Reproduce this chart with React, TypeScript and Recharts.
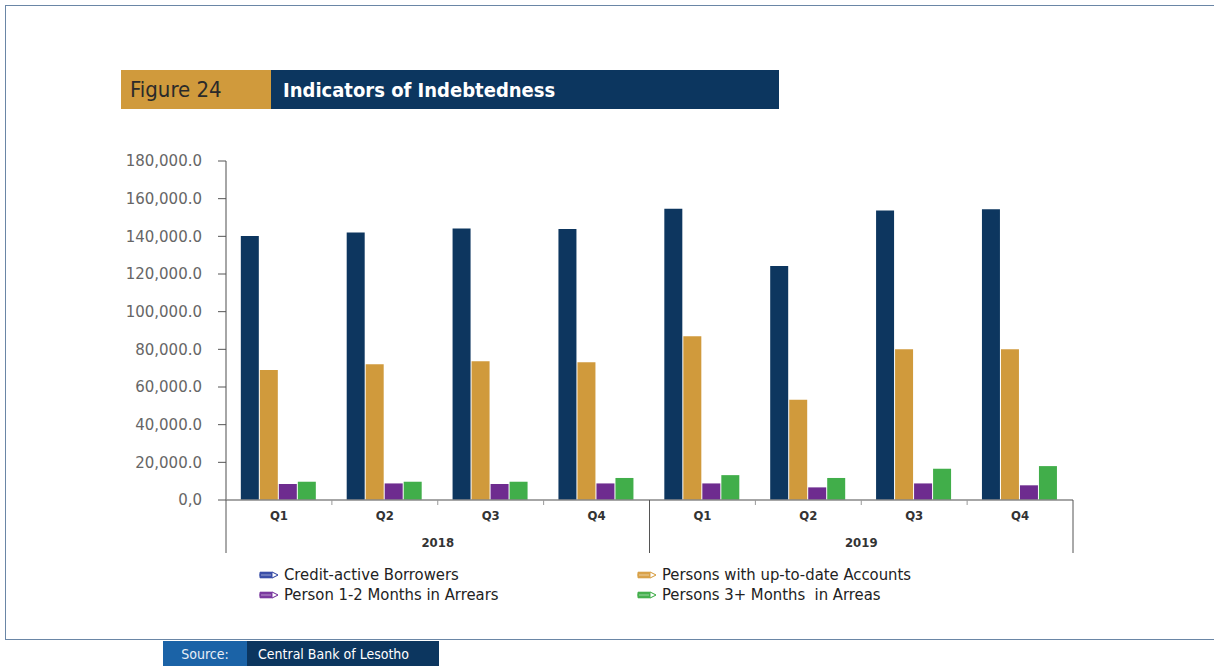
import { Bar, BarChart, XAxis, YAxis } from 'recharts'

const quarters = ['Q1', 'Q2', 'Q3', 'Q4', 'Q1', 'Q2', 'Q3', 'Q4']
const years = ['2018', '2019']
const creditActive = [140200, 142000, 144100, 143900, 154700, 124300, 153700, 154400]
const upToDate = [69000, 72100, 73700, 73200, 87000, 53200, 80100, 80100]
const arrears12 = [8500, 8800, 8500, 8800, 8800, 6700, 8800, 7800]
const arrears3plus = [9700, 9700, 9700, 11700, 13200, 11700, 16600, 18000]
const yTicks = [0, 20000, 40000, 60000, 80000, 100000, 120000, 140000, 160000, 180000]

const SERIES = [
  { key: 'credit', name: 'Credit-active Borrowers', color: '#0d365f', icon: '#3b4fa8' },
  { key: 'upToDate', name: 'Persons with up-to-date Accounts', color: '#d09a3c', icon: '#d9a24a' },
  { key: 'arr12', name: 'Person 1-2 Months in Arrears', color: '#6e2c8f', icon: '#7b3aa0' },
  { key: 'arr3', name: 'Persons 3+ Months  in Arreas', color: '#41ae4a', icon: '#45b04e' },
]

const data = quarters.map((q, i) => ({
  q,
  credit: creditActive[i],
  upToDate: upToDate[i],
  arr12: arrears12[i],
  arr3: arrears3plus[i],
}))

const NARROW = '"DejaVu Sans Condensed", "Liberation Sans Narrow", sans-serif'

// plot box
const PLOT_LEFT = 226
const PLOT_RIGHT = 1073
const PLOT_TOP = 161
const PLOT_BOTTOM = 500
const BAND = (PLOT_RIGHT - PLOT_LEFT) / quarters.length
const Y_AXIS_W = 120
const X_AXIS_H = 60

function QuarterTick(props: any) {
  const { x, y, payload, index } = props
  const half = BAND / 2
  const n = quarters.length
  const group = n / years.length
  const edges: JSX.Element[] = []
  const left = x - half
  if (index % group === 0) {
    edges.push(<line key="l" x1={left} y1={y} x2={left} y2={y + 53} stroke="#555" strokeWidth={1} />)
  } else {
    edges.push(<line key="l" x1={left} y1={y} x2={left} y2={y + 5} stroke="#999" strokeWidth={1} />)
  }
  if (index === n - 1) {
    edges.push(<line key="r" x1={x + half} y1={y} x2={x + half} y2={y + 53} stroke="#555" strokeWidth={1} />)
  }
  return (
    <g>
      {edges}
      <text x={x} y={y + 20} textAnchor="middle" fontFamily={NARROW} fontWeight="bold" fontSize={13} fill="#333">
        {payload.value}
      </text>
      {index % group === 1 && (
        <text x={x + half} y={y + 47} textAnchor="middle" fontFamily={NARROW} fontWeight="bold" fontSize={13} fill="#333">
          {years[Math.floor(index / group)]}
        </text>
      )}
    </g>
  )
}

function PencilIcon({ color }: { color: string }) {
  return (
    <svg width={20} height={10} style={{ marginRight: 5, flexShrink: 0 }}>
      <path d="M1,2 L13,2 L19,5 L13,8 L1,8 Q0,5 1,2 Z" fill={color} stroke={color} strokeWidth={0.6} />
      <path d="M13,2 L19,5 L13,8 Z" fill="#fff" stroke={color} strokeWidth={1} />
      <line x1={2} y1={5} x2={12} y2={5} stroke="#fff" strokeWidth={0.8} opacity={0.6} />
    </svg>
  )
}

function LegendItem({ s, left, top }: { s: (typeof SERIES)[number]; left: number; top: number }) {
  return (
    <div
      style={{
        position: 'absolute',
        left,
        top,
        display: 'flex',
        alignItems: 'center',
        fontFamily: NARROW,
        fontSize: 16.5,
        color: '#222',
        whiteSpace: 'pre',
      }}
    >
      <PencilIcon color={s.icon} />
      {s.name}
    </div>
  )
}

export default function App() {
  return (
    <div style={{ position: 'absolute', left: 0, top: 0, width: 1214, height: 666, background: '#fff', overflow: 'hidden' }}>
      {/* frame */}
      <div style={{ position: 'absolute', left: 5, top: 5, width: 1220, height: 633, borderTop: '1.5px solid #6a86a6', borderLeft: '1.5px solid #6a86a6', borderBottom: '1.5px solid #6a86a6' }} />

      {/* title bar */}
      <div style={{ position: 'absolute', left: 121, top: 70, width: 150, height: 39, background: '#d09a3c', display: 'flex', alignItems: 'center' }}>
        <span style={{ marginLeft: 9, fontFamily: NARROW, fontSize: 22, color: '#2a2a2a' }}>Figure 24</span>
      </div>
      <div style={{ position: 'absolute', left: 271, top: 70, width: 508, height: 39, background: '#0c365f', display: 'flex', alignItems: 'center' }}>
        <span style={{ marginLeft: 12, fontFamily: NARROW, fontSize: 20, fontWeight: 'bold', color: '#fff' }}>Indicators of Indebtedness</span>
      </div>

      <div style={{ position: 'absolute', left: 0, top: 0 }}>
        <BarChart
          width={1214}
          height={666}
          data={data}
          margin={{ top: PLOT_TOP, left: PLOT_LEFT - Y_AXIS_W, right: 1214 - PLOT_RIGHT, bottom: 666 - PLOT_BOTTOM - X_AXIS_H }}
          barCategoryGap="14%"
          barGap={1}
        >
          <XAxis
            dataKey="q"
            height={X_AXIS_H}
            tickLine={false}
            tickSize={0}
            tickMargin={0}
            axisLine={{ stroke: '#888', strokeWidth: 1.5 }}
            tick={<QuarterTick />}
            interval={0}
          />
          <YAxis
            width={Y_AXIS_W}
            domain={[0, 180000]}
            ticks={yTicks}
            interval={0}
            tickSize={8}
            tickMargin={16}
            axisLine={{ stroke: '#888', strokeWidth: 1.5 }}
            tickLine={{ stroke: '#555' }}
            tick={{ fontFamily: '"DejaVu Sans", Verdana, sans-serif', fontSize: 15, fill: '#666' }}
            tickFormatter={(v: number) => (v === 0 ? '0,0' : v.toLocaleString('en-US') + '.0')}
          />
          {SERIES.map((s) => (
            <Bar key={s.key} dataKey={s.key} name={s.name} fill={s.color} isAnimationActive={false} />
          ))}
        </BarChart>
      </div>

      {/* legend */}
      <LegendItem s={SERIES[0]} left={259} top={565} />
      <LegendItem s={SERIES[2]} left={259} top={585} />
      <LegendItem s={SERIES[1]} left={637} top={565} />
      <LegendItem s={SERIES[3]} left={637} top={585} />

      {/* source */}
      <div style={{ position: 'absolute', left: 163, top: 641, width: 84, height: 25, background: '#1b63a7', display: 'flex', alignItems: 'center', justifyContent: 'center' }}>
        <span style={{ fontFamily: NARROW, fontSize: 14, color: '#e8eef6' }}>Source:</span>
      </div>
      <div style={{ position: 'absolute', left: 247, top: 641, width: 192, height: 25, background: '#0c365f', display: 'flex', alignItems: 'center' }}>
        <span style={{ marginLeft: 11, fontFamily: NARROW, fontSize: 14, color: '#fff' }}>Central Bank of Lesotho</span>
      </div>
    </div>
  )
}
